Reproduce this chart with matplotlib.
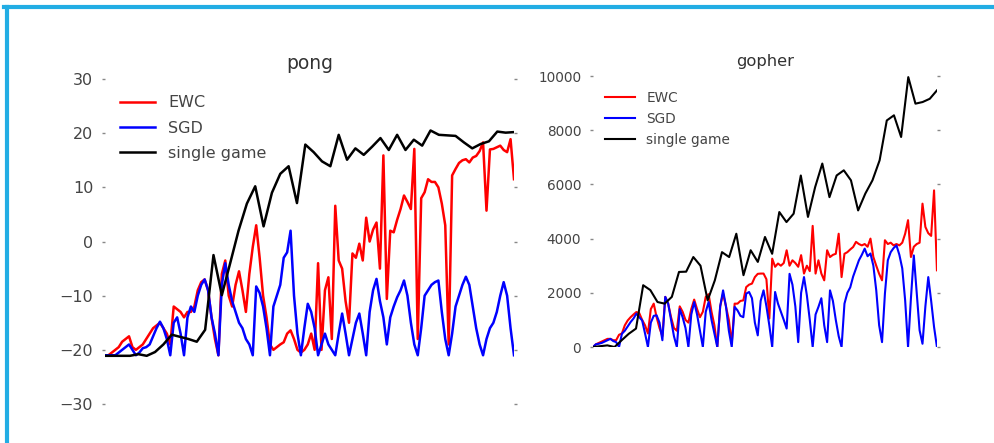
import matplotlib
matplotlib.use("Agg")
import matplotlib.pyplot as plt
from matplotlib.lines import Line2D
import numpy as np

# ---- pong scores ----
pong_ewc = [-21, -21, -20.5, -20, -19.5, -18.5, -18, -17.5, -19.5, -20,
            -19.5, -19, -18, -17, -16, -15.5, -15, -16, -17, -19,
            -12, -12.5, -13, -14, -13, -13, -12, -9, -7.5, -7,
            -9, -14, -18, -21, -6, -3.5, -10, -12, -8, -5.5,
            -9, -13, -6, -1, 3, -3, -10, -14, -19, -20,
            -19.5, -19, -18.6, -17, -16.4, -18, -20, -20.5, -20, -19,
            -17, -20, -4, -20, -9, -6.6, -18, 6.6, -3.5, -5,
            -11, -15, -2.2, -3, -0.4, -3.5, 4.4, 0, 2.2, 3.5,
            -5, 15.9, -10.6, 2, 1.7, 4, 6, 8.5, 7.3, 6,
            17.1, -18, 8, 9.1, 11.5, 11, 11, 10, 7, 3,
            -19, 12.2, 13.4, 14.5, 15, 15.2, 14.6, 15.5, 15.8, 16.7,
            18.3, 5.7, 17, 17.1, 17.4, 17.7, 16.9, 16.5, 18.9, 11.5]
pong_sgd = [-21, -21, -21, -21, -20.5, -20, -19.5, -19, -20, -21,
            -20.5, -19.7, -19.5, -19, -17.5, -16, -14.8, -16, -18, -21,
            -15, -14, -17, -21, -14, -12, -13, -10, -8, -7,
            -9, -14, -17, -21, -8, -4, -8, -11, -13, -15,
            -16, -18, -19, -21, -8.3, -9.5, -12, -16, -21, -12,
            -10, -8, -3, -2, 2, -10, -17, -21, -16, -11.5,
            -13, -16, -21, -19, -17, -19, -20, -21, -17, -13.3,
            -17, -21, -18, -15, -13.3, -17, -21, -13, -9, -6.9,
            -11, -14, -19, -14, -12, -10.3, -9, -7.2, -10, -15,
            -19, -21, -16, -10, -9, -8, -7.5, -7.2, -13, -18,
            -21, -17, -12, -10, -8, -6.5, -8, -12, -16, -19,
            -21, -18, -16, -15, -13, -10, -7.5, -10, -16, -21]
pong_single = [-21.1, -21.1, -21.1, -21.1, -20.8, -21.1, -20.4, -19, -17.2, -17.6,
               -18, -18.5, -16.3, -2.5, -9.9, -4, 2, 7, 10.2, 2.8,
               9, 12.5, 13.9, 7.1, 17.9, 16.5, 14.8, 13.9, 19.7, 15.1,
               17.2, 16, 17.5, 19.1, 16.9, 19.7, 16.9, 18.8, 17.7, 20.5,
               19.7, 19.6, 19.5, 18.3, 17.2, 18, 18.5, 20.3, 20.1, 20.2]

# ---- gopher scores ----
gopher_ewc = [0, 100, 150, 200, 250, 300, 300, 250, 250, 450,
              500, 800, 980, 1100, 1200, 1290, 1250, 1000, 800, 500,
              1400, 1600, 1100, 700, 400, 1850, 1600, 1100, 700, 600,
              1500, 1300, 1000, 900, 1400, 1750, 1400, 1100, 1300, 1850,
              1950, 1300, 800, 0, 1500, 1970, 1500, 1000, 120, 1600,
              1600, 1700, 1720, 2210, 2300, 2340, 2580, 2700, 2710, 2710,
              2500, 1050, 3260, 2960, 3080, 3000, 3100, 3570, 3000, 3200,
              3100, 2960, 3390, 2710, 3000, 2800, 4470, 2710, 3200, 2710,
              2460, 3570, 3320, 3400, 3440, 4180, 2580, 3440, 3500, 3600,
              3690, 3880, 3800, 3750, 3800, 3700, 4000, 3320, 3000, 2700,
              2460, 3940, 3800, 3850, 3750, 3800, 3750, 3850, 4180, 4680,
              3320, 3700, 3800, 3850, 5290, 4430, 4200, 4100, 5780, 2830]
gopher_sgd = [0, 100, 120, 150, 200, 250, 300, 220, 180, 0,
              490, 600, 760, 920, 1050, 1230, 1100, 980, 500, 0,
              900, 1150, 1170, 900, 250, 1850, 1600, 1000, 400, 0,
              1400, 1100, 700, 0, 1200, 1660, 1200, 600, 0, 1300,
              1660, 1000, 500, 0, 1500, 2090, 1500, 600, 0, 1480,
              1350, 1150, 1100, 1970, 2030, 1800, 900, 430, 1700, 2090,
              1500, 800, 0, 2030, 1600, 1300, 1000, 680, 2700, 2300,
              1500, 180, 2000, 2580, 1900, 1000, 0, 1200, 1480, 1800,
              800, 180, 2090, 1700, 1000, 400, 0, 1600, 2000, 2200,
              2600, 2900, 3200, 3400, 3630, 3350, 3450, 3000, 2090, 800,
              180, 1970, 3200, 3500, 3650, 3750, 3400, 2900, 1720, 0,
              1800, 3380, 2000, 615, 120, 1500, 2580, 1700, 740, 0]
gopher_single = [0, 30, 60, 0, 250, 490, 680, 2280, 2100, 1660,
                 1600, 1850, 2770, 2780, 3320, 3000, 1720, 2460, 3500, 3320,
                 4180, 2650, 3570, 3140, 4060, 3440, 4980, 4610, 4920, 6330,
                 4800, 5900, 6770, 5530, 6330, 6520, 6150, 5040, 5660, 6150,
                 6890, 8360, 8550, 7750, 9960, 8980, 9040, 9160, 9470]

labels = ["EWC", "SGD", "single game"]
txt = "#444444"

fig = plt.figure(figsize=(9.94, 4.43), dpi=100)

# cyan frame (cropped screenshot border)
fig.add_artist(Line2D([0.004, 1.0], [0.9853, 0.9853], transform=fig.transFigure,
                      color="#22ADE4", lw=3))
fig.add_artist(Line2D([0.0073, 0.0073], [0.0, 0.9853], transform=fig.transFigure,
                      color="#22ADE4", lw=3))


def panel(rect, title, ewc, sgd, single, ylim, yticks, fs, lw, legend_anchor, spacing):
    ax = fig.add_axes(rect)
    n = len(ewc)
    x = np.arange(n)
    xs = np.linspace(0, n - 1, len(single))
    ax.plot(x, ewc, color="red", lw=lw, label=labels[0])
    ax.plot(x, sgd, color="blue", lw=lw, label=labels[1])
    ax.plot(xs, single, color="black", lw=lw, label=labels[2])
    ax.set_xlim(0, n - 1)
    ax.set_ylim(*ylim)
    ax.set_yticks(yticks)
    ax.set_xticks([])
    for s in ax.spines.values():
        s.set_visible(False)
    ax.tick_params(axis="y", left=True, right=True, length=2.5, width=1,
                   color="#888888", labelcolor=txt, labelsize=fs, pad=6)
    ax.set_title(title, fontsize=fs + 2, color="#333333", pad=7)
    ax.legend(loc="upper left", bbox_to_anchor=legend_anchor, frameon=False,
              fontsize=fs, labelcolor=txt, handlelength=2.2, borderaxespad=0,
              labelspacing=spacing)
    return ax


panel([0.1056, 0.088, 0.4115, 0.7336], "pong", pong_ewc, pong_sgd, pong_single,
      (-30, 30), [-30, -20, -10, 0, 10, 20, 30], 11.5, 1.8, (0.022, 0.97), 0.65)
panel([0.5966, 0.2167, 0.346, 0.6117], "gopher", gopher_ewc, gopher_sgd, gopher_single,
      (0, 10000), [0, 2000, 4000, 6000, 8000, 10000], 9.8, 1.5, (0.02, 0.965), 0.5)

fig.savefig("out.png", dpi=100)
